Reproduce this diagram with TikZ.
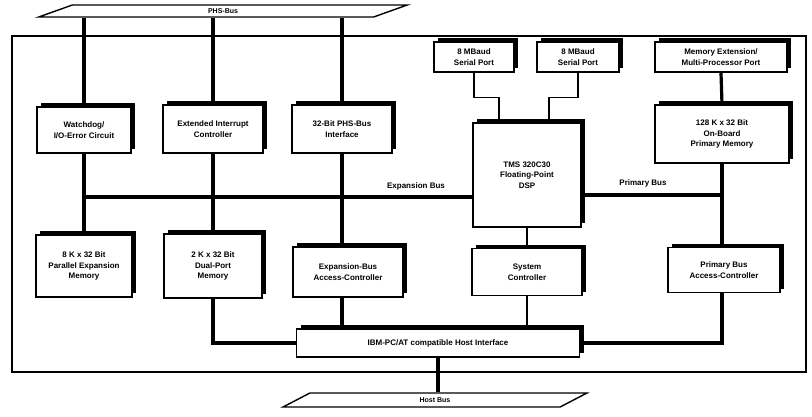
\documentclass[tikz,border=0pt]{standalone}
\usepackage{fontspec}
\setmainfont{Liberation Sans}
\usetikzlibrary{shapes.geometric,shadows}

\begin{document}
\begin{tikzpicture}[x=1pt,y=-1pt,
  unit/.style={draw, line width=1.6pt, fill=white, align=center, inner sep=1pt,
    font=\fontsize{8}{10.5}\selectfont\bfseries,
    drop shadow={shadow xshift=4pt, shadow yshift=4pt, fill=black, opacity=1}},
  busbar/.style={draw, line width=1.4pt, fill=white, trapezium, trapezium stretches=true,
    trapezium left angle=56, trapezium right angle=124, inner sep=0pt,
    font=\fontsize{7}{8}\selectfont\bfseries},
  heavy/.style={line width=3.2pt},
  light/.style={line width=1.2pt},
  buslabel/.style={font=\fontsize{8}{9}\selectfont\bfseries}]
\useasboundingbox (0,0) rectangle (812,417);
\draw[line width=1.6pt] (12,36) rectangle (806,372);
\node[busbar, minimum width=370, minimum height=12] (phsbus) at (223,11) {PHS-Bus};
\node[busbar, minimum width=304, minimum height=14] (hostbus) at (435,400) {Host Bus};
\node[unit, minimum width=94, minimum height=46] (wd) at (84,130) {Watchdog/\\I/O-Error Circuit};
\node[unit, minimum width=100, minimum height=48] (eic) at (213,129) {Extended Interrupt\\Controller};
\node[unit, minimum width=100, minimum height=48] (phsif) at (342,129) {32-Bit PHS-Bus\\Interface};
\node[unit, minimum width=108, minimum height=104] (dsp) at (527,175) {TMS 320C30\\Floating-Point\\DSP};
\node[unit, minimum width=80, minimum height=30] (port1) at (474,57) {8 MBaud\\Serial Port};
\node[unit, minimum width=82, minimum height=30] (port2) at (578,57) {8 MBaud\\Serial Port};
\node[unit, minimum width=132, minimum height=30] (mep) at (721,57) {Memory Extension/\\Multi-Processor Port};
\node[unit, minimum width=134, minimum height=58] (pmem) at (722,134) {128 K x 32 Bit\\On-Board\\Primary Memory};
\node[unit, minimum width=96, minimum height=62] (pem) at (84,266) {8 K x 32 Bit\\Parallel Expansion\\Memory};
\node[unit, minimum width=98, minimum height=64] (dpm) at (213,266) {2 K x 32 Bit\\Dual-Port\\Memory};
\node[unit, minimum width=110, minimum height=50] (ebac) at (348,272) {Expansion-Bus\\Access-Controller};
\node[unit, minimum width=110, minimum height=47] (sysc) at (527,272) {System\\Controller};
\node[unit, minimum width=112, minimum height=45] (pbac) at (724,270) {Primary Bus\\Access-Controller};
\node[unit, minimum width=283, minimum height=28] (host) at (438,343) {IBM-PC/AT compatible Host Interface};
\coordinate (xb) at (84,197);
\coordinate (pb) at (722,195);
\draw[heavy] (phsbus.south -| wd.north) -- (wd.north);
\draw[heavy] (phsbus.south -| eic.north) -- (eic.north);
\draw[heavy] (phsbus.south -| phsif.north) -- (phsif.north);
\draw[heavy] (wd.south) -- (pem.north);
\draw[heavy] (eic.south) -- (dpm.north);
\draw[heavy] (phsif.south) -- (phsif.south |- ebac.north);
\draw[heavy] (xb) -- (xb -| dsp.west);
\node[buslabel] (xblabel) at (416,186) {Expansion Bus};
\draw[heavy] (dsp.east |- pb) -- (pb);
\node[buslabel] (pblabel) at (643,183) {Primary Bus};
\draw[heavy] (mep.south) -- (pmem.north);
\draw[heavy] (pmem.south) -- (pmem.south |- pbac.north);
\draw[light] (port1.south) -- ++(0,25) -| ([xshift=-28pt]dsp.north);
\draw[light] (port2.south) -- ++(0,25) -| ([xshift=22pt]dsp.north);
\draw[light] (dsp.south) -- (sysc.north);
\draw[light] (sysc.south) -- (sysc.south |- host.north);
\draw[heavy] (dpm.south) |- (host.west);
\draw[heavy] (phsif.south |- ebac.south) -- (phsif.south |- host.north);
\draw[heavy] (pmem.south |- pbac.south) |- (host.east);
\draw[heavy] (host.south) -- (host.south |- hostbus.north);
\end{tikzpicture}
\end{document}
